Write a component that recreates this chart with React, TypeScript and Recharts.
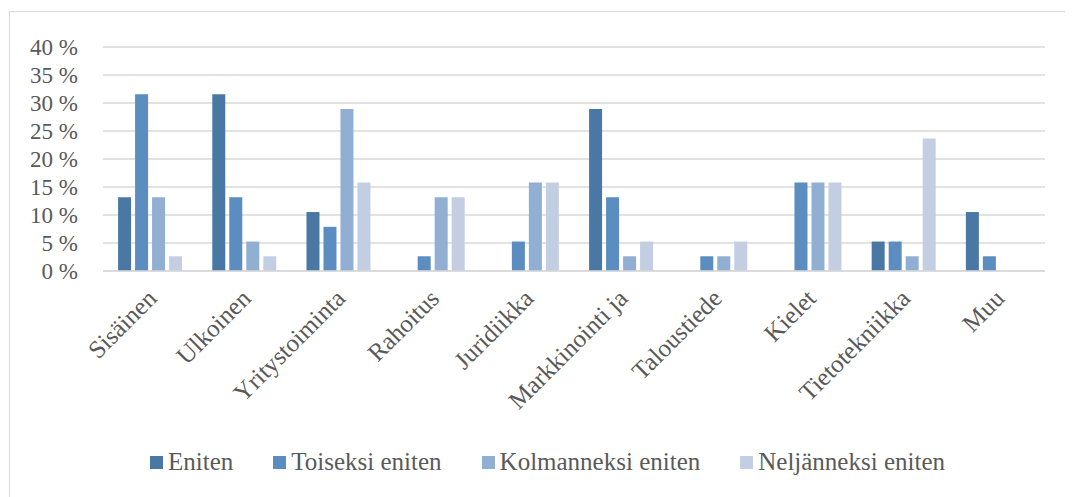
import { Bar, BarChart, CartesianGrid, Legend, XAxis, YAxis } from 'recharts'

const categories = [
  'Sisäinen',
  'Ulkoinen',
  'Yritystoiminta',
  'Rahoitus',
  'Juridiikka',
  'Markkinointi ja',
  'Taloustiede',
  'Kielet',
  'Tietotekniikka',
  'Muu',
]

const eniten = [13.16, 31.58, 10.53, 0, 0, 28.95, 0, 0, 5.26, 10.53]
const toiseksi = [31.58, 13.16, 7.89, 2.63, 5.26, 13.16, 2.63, 15.79, 5.26, 2.63]
const kolmanneksi = [13.16, 5.26, 28.95, 13.16, 15.79, 2.63, 2.63, 15.79, 2.63, 0]
const neljanneksi = [2.63, 2.63, 15.79, 13.16, 15.79, 5.26, 5.26, 15.79, 23.68, 0]

const yTicks = [0, 5, 10, 15, 20, 25, 30, 35, 40]

const series = [
  { key: 'eniten', name: 'Eniten', color: '#4A78A5' },
  { key: 'toiseksi', name: 'Toiseksi eniten', color: '#5B8DC0' },
  { key: 'kolmanneksi', name: 'Kolmanneksi eniten', color: '#91AED3' },
  { key: 'neljanneksi', name: 'Neljänneksi eniten', color: '#C4CEE2' },
]

const data = categories.map((name, i) => ({
  name,
  eniten: eniten[i],
  toiseksi: toiseksi[i],
  kolmanneksi: kolmanneksi[i],
  neljanneksi: neljanneksi[i],
}))

const FONT = 'Liberation Serif'
const TEXT = '#595959'

const AngledTick = (props: any) => {
  const { x, y, payload } = props
  return (
    <g transform={`translate(${x + 8},${y + 29})`}>
      <text
        transform='rotate(-45)'
        textAnchor='end'
        fill={TEXT}
        fontSize={25}
        fontFamily={FONT}>
        {payload.value}
      </text>
    </g>
  )
}

const YTick = (props: any) => {
  const { x, y, payload } = props
  return (
    <text
      x={x}
      y={y}
      dy={8}
      textAnchor='end'
      fill={TEXT}
      fontSize={23}
      fontFamily={FONT}>
      {`${payload.value} %`}
    </text>
  )
}

const LegendContent = () => (
  <div style={{ display: 'flex', alignItems: 'center', fontFamily: FONT, fontSize: 25, color: TEXT, lineHeight: '26px' }}>
    {series.map((s) => (
      <div key={s.key} style={{ display: 'flex', alignItems: 'center', marginRight: 40 }}>
        <span style={{ width: 13, height: 13, background: s.color, marginRight: 5, display: 'inline-block' }} />
        <span style={{ whiteSpace: 'nowrap' }}>{s.name}</span>
      </div>
    ))}
  </div>
)

const App = () => {
  return (
    <div style={{ marginTop: 3, marginLeft: 1, borderLeft: '1px solid #d9d9d9', borderTop: '1px solid #d9d9d9', width: 1063 }}>
      <BarChart
        width={1063}
        height={485}
        data={data}
        barCategoryGap='16%'
        barGap={4}
        margin={{ top: 35, right: 28, left: 0, bottom: 0 }}>
        <CartesianGrid vertical={false} stroke='#d9d9d9' strokeWidth={1.5} />
        <XAxis
          dataKey='name'
          interval={0}
          tickLine={false}
          tickSize={0}
          tickMargin={0}
          axisLine={{ stroke: '#d9d9d9', strokeWidth: 1.5 }}
          tick={<AngledTick />}
          height={226}
        />
        <YAxis
          width={93}
          domain={[0, 40]}
          ticks={yTicks}
          interval={0}
          axisLine={false}
          tickLine={false}
          tickSize={0}
          tickMargin={25}
          tick={<YTick />}
        />
        <Legend
          layout='horizontal'
          verticalAlign='middle'
          align='center'
          content={<LegendContent />}
          wrapperStyle={{ top: 437, left: 140, width: 900 }}
        />
        {series.map((s) => (
          <Bar key={s.key} dataKey={s.key} name={s.name} fill={s.color} isAnimationActive={false} />
        ))}
      </BarChart>
    </div>
  )
}

export default App
